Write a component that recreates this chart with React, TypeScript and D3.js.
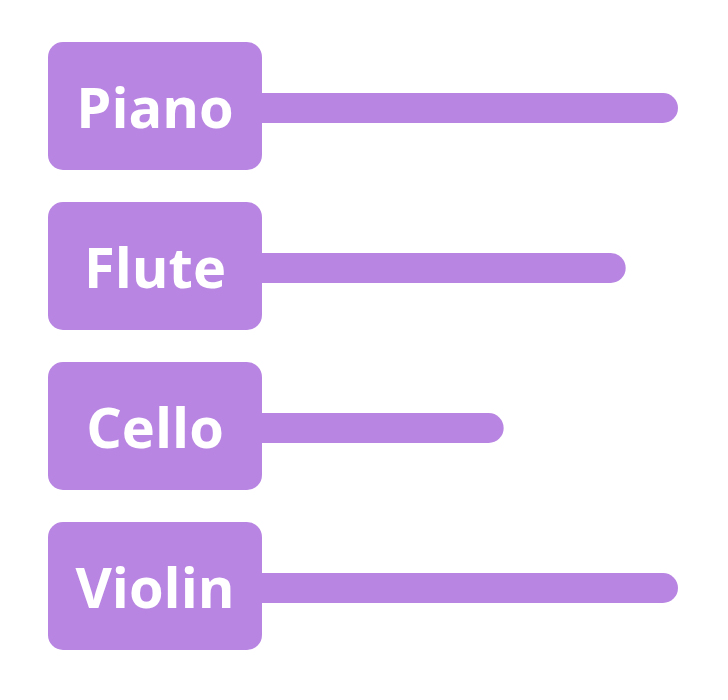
import * as d3 from "d3";
import { useEffect, useRef } from "react";

const INSTRUMENTS = ["Piano", "Flute", "Cello", "Violin"];
const SCORES = [30, 27, 20, 30];
const MAX_SCORE = 30;

const COLOR = "#b886e2";

const App = () => {
	const svgRef = useRef(null);
	const width = 728;
	const height = 700;

	useEffect(() => {
		const svg = d3.select(svgRef.current);
		svg.selectAll("*").remove();

		const boxLeft = 48;
		const boxWidth = 214;
		const boxCenter = boxLeft + boxWidth / 2;

		const yScale = d3
			.scaleBand()
			.domain(INSTRUMENTS)
			.range([42, 650])
			.paddingInner(0.2)
			.paddingOuter(0);

		const xScale = d3.scaleLinear().domain([0, MAX_SCORE]).range([boxCenter, 678]);

		const rows = svg
			.selectAll(".row")
			.data(INSTRUMENTS.map((name, i) => ({ name, value: SCORES[i] })))
			.enter()
			.append("g")
			.attr("class", "row")
			.attr("transform", (d) => `translate(0, ${yScale(d.name)})`);

		const bw = yScale.bandwidth();
		const barH = 30;

		// bar behind the label box
		rows.append("rect")
			.attr("x", boxCenter)
			.attr("y", bw / 2 - barH / 2 + 2)
			.attr("width", (d) => xScale(d.value) - boxCenter)
			.attr("height", barH)
			.attr("rx", barH / 2)
			.attr("fill", COLOR);

		rows.append("rect")
			.attr("x", boxLeft)
			.attr("y", 0)
			.attr("width", boxWidth)
			.attr("height", bw)
			.attr("rx", 15)
			.attr("fill", COLOR);

		rows.append("text")
			.attr("x", boxCenter)
			.attr("y", bw / 2 + 22)
			.attr("text-anchor", "middle")
			.attr("fill", "#ffffff")
			.attr("font-family", "'Open Sans', sans-serif")
			.attr("font-weight", 700)
			.attr("font-size", 56)
			.text((d) => d.name);
	}, []);

	return (
		<svg
			ref={svgRef}
			width={width}
			height={height}
			style={{ position: "absolute", left: 0, top: 0, background: "#fff" }}
		/>
	);
};

export default App;
